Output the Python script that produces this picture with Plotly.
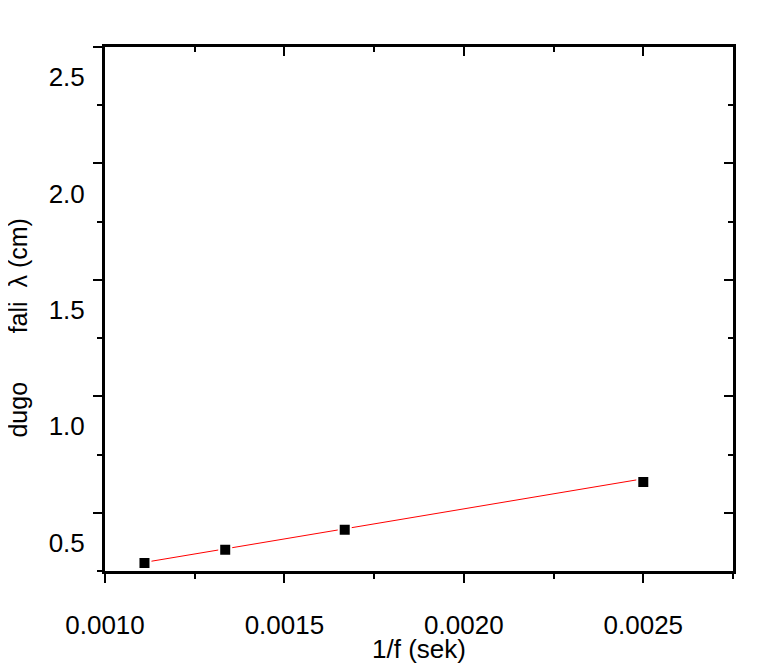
import plotly.graph_objects as go

# 1/f (s) and wavelength (cm)
inv_f = [0.00111, 0.001335, 0.001668, 0.0025]
wavelength = [0.284, 0.341, 0.427, 0.632]

# linear fit drawn in red, endpoints
fit_x = [0.00111, 0.0025]
fit_y = [0.287, 0.646]

x_range = [0.001, 0.00275]
y_range = [0.25, 2.5]

FONT = "Liberation Sans, Arial, sans-serif"

fig = go.Figure()

fig.add_trace(go.Scatter(
    x=fit_x, y=fit_y, mode="lines",
    line=dict(color="red", width=1),
    showlegend=False, hoverinfo="skip",
))
fig.add_trace(go.Scatter(
    x=inv_f, y=wavelength, mode="markers",
    marker=dict(symbol="square", size=12, color="black",
                line=dict(color="white", width=2)),
    showlegend=False,
))
# empty trace so the mirrored top/right axes get drawn
fig.add_trace(go.Scatter(x=[], y=[], xaxis="x2", yaxis="y2", showlegend=False))

common = dict(showgrid=False, zeroline=False, showline=True, automargin=False,
              linecolor="black", linewidth=3, tickcolor="black", tickwidth=2)

# page shows the figure offset by ~7px, margins compensate for it
fig.update_layout(
    width=776, height=664,
    margin=dict(l=97, r=51, t=39, b=101, autoexpand=False),
    plot_bgcolor="white", paper_bgcolor="white",
    font=dict(family=FONT, size=26, color="black"),
    xaxis=dict(
        range=x_range, tick0=0.001, dtick=0.0005, tickformat=".4f",
        ticks="outside", ticklen=9, ticklabelstandoff=20,
        minor=dict(dtick=0.00025, ticks="outside", ticklen=5,
                   tickwidth=2, tickcolor="black"),
        **common,
    ),
    yaxis=dict(
        range=y_range, tick0=0.5, dtick=0.5, tickformat=".1f",
        ticks="outside", ticklen=9, ticklabelstandoff=3, ticklabelshift=30,
        minor=dict(dtick=0.25, ticks="outside", ticklen=5,
                   tickwidth=2, tickcolor="black"),
        **common,
    ),
    xaxis2=dict(
        overlaying="x", side="top", anchor="y2", range=x_range,
        tick0=0.001, dtick=0.0005, ticks="inside", ticklen=9,
        showticklabels=False,
        minor=dict(dtick=0.00025, ticks="inside", ticklen=5,
                   tickwidth=2, tickcolor="black"),
        **common,
    ),
    yaxis2=dict(
        overlaying="y", side="right", anchor="x2", range=y_range,
        tick0=0.5, dtick=0.5, ticks="inside", ticklen=9,
        showticklabels=False,
        minor=dict(dtick=0.25, ticks="inside", ticklen=5,
                   tickwidth=2, tickcolor="black"),
        **common,
    ),
    annotations=[
        dict(text="1/f (sek)", xref="paper", yref="paper",
             x=0.5, y=-0.149, xanchor="center", yanchor="middle",
             showarrow=False, font=dict(size=26)),
        dict(text="dugo\u00a0\u00a0\u00a0\u00a0\u00a0\u00a0\u00a0fali\u00a0\u00a0\u03bb\u00a0(cm)",
             xref="paper", yref="paper", x=-0.139, y=0.464,
             xanchor="center", yanchor="middle", textangle=-90,
             showarrow=False, font=dict(size=25)),
    ],
)

fig.write_html("out.html")
